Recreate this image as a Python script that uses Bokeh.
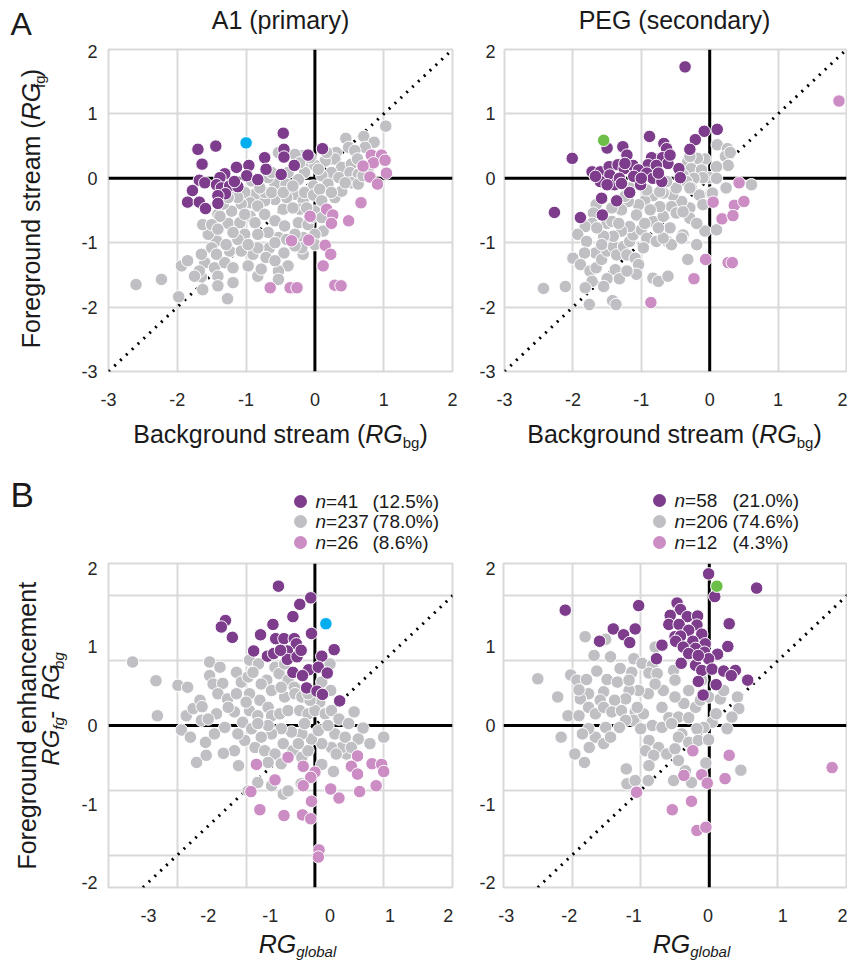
import math
from bokeh.plotting import figure
from bokeh.layouts import column, row
from bokeh.models import FixedTicker, Span, Slope, Label
from bokeh.embed import file_html
from bokeh.resources import INLINE

# ---------------- data ----------------
# Panel A: x = background stream RG_bg, y = foreground stream RG_fg
A1_A_purple = [(-1.70,0.45),(-1.44,0.50),(-1.64,0.22),(-0.46,0.70),(-0.45,0.45),(-0.45,0.33),(-0.73,0.32),(-0.10,0.36),(0.11,0.46),(-0.30,0.20),(-0.71,0.14),(-0.96,0.20),(-1.14,0.17),(-1.31,0.07),(-0.99,0.04),(-0.83,-0.02),(-0.49,0.06),(-1.38,0.01),(-1.68,-0.03),(-1.60,-0.07),(-1.43,-0.10),(-1.36,-0.15),(-1.24,-0.12),(-1.12,-0.13),(-1.30,-0.24),(-1.41,-0.27),(-1.78,-0.19),(-1.85,-0.37),(-1.68,-0.37),(-1.59,-0.47),(-1.41,-0.39),(-1.17,-0.05)]
A1_A_pink = [(0.82,0.36),(0.97,0.36),(0.85,0.24),(0.70,0.19),(1.02,0.28),(0.80,0.02),(1.04,0.08),(0.91,-0.09),(0.67,-0.38),(0.17,-0.48),(0.26,-0.57),(-0.07,-0.59),(0.24,-0.70),(0.49,-0.66),(-0.34,-0.97),(-0.09,-0.96),(0.15,-1.04),(0.23,-1.18),(0.12,-1.36),(-0.65,-1.70),(-0.36,-1.70),(-0.26,-1.70),(0.29,-1.66),(0.38,-1.67)]
A1_A_gray = [(1.03,0.81),(0.45,0.62),(0.71,0.65),(0.86,0.56),(0.49,0.48),(0.31,0.40),(0.73,0.48),(0.29,0.30),(0.15,0.27),(0.39,0.17),(0.53,0.22),(0.24,0.09),(0.10,0.04),(0.35,0.01),(0.51,0.09),(0.63,0.06),(0.53,-0.07),(0.19,-0.09),(-0.02,-0.12),(-0.12,0.19),(0.00,0.20),(-0.19,0.35),(-0.53,0.40),(-0.29,0.37),(-0.15,0.09),(-0.24,-0.02),(-0.39,0.09),(-0.58,-0.09),(-0.68,0.01),(-0.42,-0.09),(-0.29,-0.25),(-0.17,-0.35),(-0.15,-0.22),(-0.02,-0.26),(0.07,-0.17),(0.10,-0.35),(0.00,-0.51),(-0.22,-0.48),(-0.46,-0.48),(-0.58,-0.33),(-0.73,-0.35),(-0.87,-0.25),(-1.02,-0.22),(-0.94,-0.38),(-0.83,-0.43),(-1.07,-0.40),(-1.21,-0.51),(-1.41,-0.56),(-1.26,-0.70),(-1.09,-0.69),(-0.94,-0.59),(-0.87,-0.69),(-0.73,-0.56),(-0.58,-0.66),(-0.44,-0.74),(-0.24,-0.69),(-0.10,-0.72),(0.12,-0.82),(0.00,-0.87),(-0.17,-0.92),(-0.29,-0.87),(-0.53,-0.92),(-0.68,-0.84),(-0.83,-0.87),(-1.02,-0.87),(-1.12,-0.95),(-1.24,-1.13),(-1.43,-0.97),(-1.55,-0.87),(-1.63,-0.72),(-1.50,-1.08),(-1.60,-1.31),(-1.46,-1.39),(-1.31,-1.31),(-1.19,-1.39),(-1.41,-1.52),(-1.65,-1.53),(-1.68,-1.44),(-1.94,-1.36),(-1.85,-1.28),(-1.63,-1.73),(-1.98,-1.84),(-1.41,-1.67),(-1.19,-1.62),(-1.27,-1.87),(-0.83,-1.52),(-0.78,-1.41),(-0.97,-1.36),(-0.90,-1.18),(-1.07,-1.13),(-0.66,-1.08),(-0.83,-1.08),(-0.58,-1.00),(-0.45,-1.16),(-0.39,-1.36),(-0.53,-1.44),(-0.53,-1.57),(-0.17,-1.18),(-0.19,-1.08),(0.00,-1.03),(-2.60,-1.65),(-2.23,-1.57),(-0.92,-0.04),(-1.17,-0.22),(-1.33,-0.40),(-1.38,-0.59),(-1.02,-0.56),(-0.73,-0.22),(-0.41,-0.30),(-0.32,-0.46),(-0.05,-0.61),(0.29,-0.30),(0.39,-0.20),(0.63,-0.09),(0.44,-0.07),(0.24,-0.22),(-0.12,-0.46),(0.10,-0.61),(0.58,0.43),(0.62,0.30),(0.78,0.17),(0.70,0.04),(0.17,0.40),(-0.07,0.32),(0.05,0.14),(-0.22,0.24),(-0.63,0.09),(-0.80,-0.15),(-0.63,-0.22),(-0.46,-0.22),(-0.32,-0.12),(-1.12,-0.30),(-1.26,-0.30),(-1.50,-0.72),(-1.41,-0.79),(-1.19,-0.84),(-1.29,-1.03),(-1.43,-1.18),(-0.97,-1.03),(-0.71,-1.23),(-0.58,-1.28),(-0.29,-1.05),(-0.41,-0.95),(-1.65,-1.18),(-1.75,-1.52)]
A1_A_blue = [(-1.00,0.55)]

PEG_A_purple = [(-0.36,1.73),(-0.88,0.65),(-0.67,0.54),(-0.63,0.46),(-0.08,0.73),(0.11,0.76),(-0.21,0.60),(-0.29,0.45),(-1.27,0.49),(-1.50,0.47),(-2.01,0.31),(-1.21,0.36),(-0.85,0.32),(-0.69,0.32),(-0.61,0.23),(-0.45,0.15),(-0.43,0.01),(-1.72,0.10),(-1.60,0.10),(-1.47,0.18),(-1.34,0.21),(-1.25,0.15),(-1.12,0.20),(-0.90,0.21),(-0.78,0.20),(-1.04,0.13),(-1.46,0.05),(-1.11,0.03),(-0.92,0.08),(-0.83,0.00),(-0.70,-0.05),(-1.60,-0.05),(-1.39,-0.10),(-1.32,0.00),(-1.01,-0.10),(-1.17,-0.22),(-1.36,-0.35),(-1.58,-0.31),(-2.27,-0.53),(-1.89,-0.61),(-1.57,-0.57),(-1.29,-0.08),(-1.67,0.03),(-1.00,0.00),(-0.75,0.08),(-0.58,0.36),(-1.24,0.23),(-1.50,-0.10)]
PEG_A_pink = [(1.89,1.20),(0.43,-0.07),(0.05,-0.37),(0.36,-0.42),(0.50,-0.36),(0.18,-0.63),(0.34,-0.58),(-0.06,-1.26),(0.27,-1.31),(0.33,-1.31),(-0.23,-1.56),(-0.86,-1.93)]
PEG_A_gray = [(0.11,0.52),(0.26,0.46),(0.23,0.34),(0.30,0.40),(0.27,0.20),(0.10,0.18),(-0.07,0.30),(-0.18,0.31),(-0.32,0.26),(-0.27,0.15),(-0.12,0.13),(0.00,0.01),(0.10,0.00),(0.61,-0.10),(-0.10,0.01),(-0.23,0.00),(-0.39,0.05),(-0.34,-0.05),(-0.27,-0.15),(-0.15,-0.26),(0.02,-0.23),(-0.10,-0.41),(-0.29,-0.46),(-0.41,-0.36),(-0.54,-0.26),(-0.68,-0.23),(-0.83,-0.27),(-0.95,-0.35),(-1.04,-0.41),(-1.19,-0.36),(-1.29,-0.49),(-1.43,-0.46),(-1.66,-0.41),(-1.70,-0.54),(-1.50,-0.70),(-1.72,-0.70),(-1.82,-0.75),(-1.93,-0.87),(-1.80,-0.98),(-1.67,-1.16),(-1.83,-1.16),(-2.00,-1.24),(-1.89,-1.34),(-1.75,-1.44),(-1.66,-1.39),(-1.58,-1.26),(-1.50,-1.13),(-1.41,-1.06),(-1.36,-1.19),(-1.26,-1.06),(-1.21,-1.19),(-1.38,-1.42),(-1.50,-1.56),(-1.32,-1.56),(-1.55,-1.68),(-1.72,-1.60),(-1.82,-1.70),(-2.11,-1.68),(-2.43,-1.71),(-1.76,-1.96),(-1.42,-1.90),(-1.37,-1.96),(-1.09,-1.24),(-1.04,-1.34),(-1.17,-0.98),(-1.12,-0.88),(-1.00,-0.80),(-0.92,-0.93),(-0.78,-0.98),(-0.97,-1.08),(-0.83,-1.55),(-0.75,-1.60),(-0.61,-1.52),(-0.62,-0.98),(-0.56,-1.03),(-0.68,-0.93),(-0.83,-0.67),(-0.68,-0.59),(-0.56,-0.44),(-0.73,-0.44),(-0.87,-0.49),(-1.07,-0.57),(-1.17,-0.75),(-1.29,-0.82),(-1.41,-0.90),(-1.55,-0.90),(-1.65,-0.77),(-1.58,-1.03),(-1.43,-0.67),(-1.33,-0.70),(-0.39,-0.88),(-0.41,-0.93),(-0.32,-1.26),(-0.19,-1.03),(-0.07,-0.82),(0.10,-0.80),(0.04,-0.23),(-0.29,-0.62),(-0.49,-0.54),(-0.39,-0.52),(-0.58,-0.77),(-0.75,-0.77),(-0.95,-0.70),(-0.29,-0.15),(-0.49,-0.15),(-0.63,-0.05),(-0.92,-0.18),(-0.73,-0.21),(-1.24,-0.28),(-1.17,-0.15),(-0.29,0.34),(0.24,-0.15),(-1.07,-1.49),(-1.21,-1.44),(-0.19,-0.70)]
PEG_A_green = [(-1.55,0.59)]

# Panel B: x = RG_global, y = RG_fg - RG_bg
A1_B_purple = [(-0.53,2.15),(-0.06,1.97),(-0.22,1.87),(-0.32,1.68),(-0.61,1.56),(-1.30,1.62),(-1.36,1.52),(-1.20,1.36),(-0.79,1.40),(-0.05,1.42),(-0.89,1.15),(-0.69,1.07),(-0.57,1.34),(-0.45,1.34),(-0.30,1.34),(-0.27,1.26),(-0.60,1.11),(-0.40,1.15),(-0.40,1.02),(-0.26,1.06),(0.28,1.17),(0.10,1.07),(-0.32,0.82),(-0.09,0.86),(0.05,0.90),(-0.18,0.77),(0.18,0.81),(-0.12,0.58),(0.03,0.53),(0.11,0.48),(0.36,0.38),(-0.50,1.16),(-0.20,1.16)]
A1_B_pink = [(-0.39,-0.49),(-0.85,-0.60),(-0.58,-0.84),(-0.17,-0.63),(0.00,-0.72),(-0.06,-0.80),(0.62,-0.47),(0.53,-0.63),(0.62,-0.75),(0.83,-0.59),(0.97,-0.60),(1.00,-0.71),(0.89,-0.93),(0.65,-1.02),(0.35,-1.12),(0.23,-0.98),(-0.17,-0.93),(-0.05,-1.17),(-0.93,-1.02),(-0.80,-1.30),(-0.45,-1.39),(-0.18,-1.38),(-0.06,-1.44),(0.06,-1.92),(0.05,-2.03)]
A1_B_gray = [(-2.65,0.98),(-2.31,0.69),(-2.29,0.15),(-1.99,0.62),(-1.85,0.59),(-1.94,-0.07),(-1.81,-0.18),(-1.72,-0.57),(-1.58,-0.46),(-1.59,-0.26),(-1.87,0.15),(-1.77,0.26),(-1.67,0.39),(-1.64,0.29),(-1.53,0.98),(-1.38,0.90),(-1.53,0.77),(-1.48,0.64),(-1.34,0.65),(-1.41,0.49),(-1.27,0.41),(-1.14,0.82),(-1.07,0.67),(-0.97,0.75),(-0.95,1.01),(-0.82,0.95),(-0.90,0.82),(-0.70,0.70),(-0.58,0.90),(-0.52,0.80),(-0.39,0.70),(-0.30,0.59),(0.10,0.67),(0.22,0.95),(0.07,0.36),(0.23,0.54),(-1.17,0.21),(-1.05,0.05),(-0.95,0.23),(-0.83,0.15),(-0.80,0.39),(-0.68,0.28),(-0.63,0.15),(-0.51,0.18),(-0.44,0.44),(-0.29,0.49),(-0.39,0.23),(-0.22,0.23),(-0.10,0.18),(0.00,0.23),(0.15,0.18),(0.24,0.23),(0.35,0.10),(0.49,0.03),(0.57,0.21),(0.70,-0.04),(0.63,-0.21),(0.80,-0.28),(1.00,-0.18),(0.46,-0.44),(0.39,-0.34),(0.24,-0.34),(0.10,-0.28),(-0.05,-0.21),(-0.19,-0.13),(-0.34,-0.10),(-0.49,-0.05),(-0.63,-0.13),(-0.78,-0.18),(-0.92,-0.05),(-1.02,-0.23),(-1.17,-0.39),(-1.33,-0.43),(-1.46,-0.13),(-1.31,-0.03),(-1.12,-0.13),(-0.87,-0.34),(-0.73,-0.39),(-0.58,-0.44),(-0.46,-0.28),(-0.32,-0.39),(-0.19,-0.49),(0.10,-0.60),(0.27,-0.71),(-0.49,-0.59),(-0.68,-0.57),(-0.83,-0.88),(-0.63,-0.93),(-0.46,-1.06),(-0.39,-1.01),(-0.20,-0.90),(-1.11,-0.62),(-0.97,-1.01),(-0.10,-0.39),(0.05,-0.08),(0.29,-0.13),(0.44,-0.18),(-0.15,0.03),(-0.68,0.00),(-0.83,0.03),(0.19,0.00),(-0.24,-0.28),(-0.95,0.49),(-1.00,0.36),(-1.14,0.49),(-1.26,0.28),(-1.43,0.18),(-1.65,0.08),(-1.55,0.10),(-0.78,0.64),(-0.63,0.54),(-0.49,0.59),(-0.19,0.44),(-0.07,0.39),(-0.10,0.49),(-0.44,0.95),(0.53,-0.34),(0.31,-0.44)]
A1_B_blue = [(0.16,1.57)]

PEG_B_purple = [(-0.01,2.34),(0.08,1.99),(0.69,2.12),(-2.10,1.78),(-1.03,1.85),(-0.47,1.89),(-0.42,1.79),(-0.57,1.70),(-0.32,1.68),(-0.17,1.69),(-0.59,1.56),(-0.44,1.56),(-0.18,1.55),(-0.30,1.47),(0.29,1.57),(-1.40,1.49),(-1.08,1.49),(-1.25,1.40),(-1.16,1.28),(-1.60,1.30),(-0.50,1.37),(-0.42,1.38),(-0.11,1.41),(-0.49,1.30),(-0.24,1.30),(-0.38,1.21),(-0.06,1.26),(0.27,1.22),(-0.69,1.24),(-0.20,1.19),(-0.07,1.13),(0.12,1.10),(-0.77,1.03),(-0.01,1.03),(-0.41,0.96),(-0.20,0.93),(-0.11,0.85),(0.04,0.87),(0.21,0.84),(0.38,0.85),(0.32,0.77),(0.56,0.70),(-0.16,0.68),(0.10,0.63),(-0.09,0.47),(-0.30,1.11),(-0.16,1.08)]
PEG_B_pink = [(1.79,-0.65),(-0.24,-0.39),(0.29,-0.46),(-0.11,-0.76),(-0.03,-0.89),(0.23,-0.82),(-0.37,-0.77),(-1.06,-1.03),(-0.26,-1.17),(-0.54,-1.30),(-0.18,-1.62),(-0.05,-1.57)]
PEG_B_gray = [(-2.50,0.72),(-1.81,1.37),(-1.51,1.33),(-1.68,1.08),(-1.44,1.06),(-2.02,0.78),(-1.93,0.70),(-1.79,0.71),(-1.64,0.84),(-1.49,0.71),(-1.34,0.67),(-1.30,0.88),(-1.13,0.82),(-1.10,1.03),(-0.98,0.96),(-0.83,0.93),(-0.88,0.81),(-0.76,0.80),(-0.79,1.21),(-0.52,0.85),(-0.50,0.70),(-0.67,0.54),(-0.79,0.64),(-0.89,0.49),(-1.03,0.54),(-1.17,0.54),(-1.22,0.41),(-1.38,0.39),(-1.54,0.52),(-1.59,0.39),(-1.76,0.49),(-1.88,0.41),(-2.21,0.44),(-2.06,0.15),(-1.90,0.15),(-1.76,0.28),(-1.66,0.18),(-1.54,0.28),(-1.42,0.21),(-1.28,0.23),(-1.08,0.21),(-1.10,0.08),(-0.96,0.18),(-0.83,0.00),(-1.00,-0.05),(-1.22,0.08),(-1.31,-0.03),(-1.51,-0.03),(-1.66,-0.18),(-1.76,-0.05),(-1.85,-0.13),(-1.75,-0.34),(-1.54,-0.28),(-1.44,-0.18),(-1.96,-0.44),(-1.82,-0.57),(-2.16,-0.18),(-0.69,-0.03),(-0.59,0.12),(-0.45,0.13),(-0.30,0.12),(-0.20,0.28),(-0.37,0.34),(-0.50,0.44),(-0.30,0.54),(-0.13,0.39),(-0.01,0.44),(0.16,0.41),(0.21,0.54),(0.41,0.44),(0.43,0.26),(0.33,0.13),(0.26,-0.05),(0.04,0.05),(-0.08,-0.03),(-0.18,-0.05),(-0.40,-0.13),(-0.45,-0.18),(-0.30,-0.26),(-0.16,-0.23),(-0.01,-0.22),(-0.88,-0.23),(-0.93,-0.39),(-0.74,-0.34),(-0.81,-0.46),(-0.62,-0.44),(-0.50,-0.36),(-0.45,-0.54),(-0.88,-0.62),(-1.21,-0.67),(-1.20,-0.90),(-1.08,-0.85),(-0.89,-0.85),(-0.52,-0.85),(-0.26,-0.88),(-0.05,-0.58),(0.46,-0.69),(-0.35,-0.70),(0.10,0.18),(-0.11,0.70),(-1.17,0.70),(-1.90,0.55),(-1.05,0.28),(-0.69,0.28),(-0.55,0.03)]
PEG_B_green = [(0.11,2.15)]

# legend values for panel B
A1_counts = [41, 237, 26]
A1_pcts = [12.5, 78.0, 8.6]
PEG_counts = [58, 206, 12]
PEG_pcts = [21.0, 74.6, 4.3]

# axis tick labels
XT_LABELS = ["-3", "-2", "-1", "0", "1", "2"]
YT_LABELS_A = ["-3", "-2", "-1", "0", "1", "2"]
YT_LABELS_B = ["-2", "-1", "0", "1", "2"]

# ---------------- style ----------------
PURPLE = "#7d3c8c"
GRAY = "#c0c0c4"
PINK = "#cc8cc4"
BLUE = "#00aeef"
GREEN = "#6cc04a"
GRID = "#d9d9d9"
TXT = "#1a1a1a"
FONT = "Liberation Sans"

AW = {' ': 278, '(': 333, ')': 333, '-': 333, '=': 584, '%': 889, '.': 278,
      'A': 667, 'B': 667, 'E': 667, 'F': 611, 'G': 778, 'P': 667, 'R': 722, 'S': 667, 'C': 722,
      'a': 556, 'b': 556, 'c': 500, 'd': 556, 'e': 556, 'f': 278, 'g': 556, 'h': 556, 'i': 222,
      'k': 500, 'l': 222, 'm': 833, 'n': 556, 'o': 556, 'p': 556, 'r': 333, 's': 500, 't': 278,
      'u': 556, 'y': 500}
for _d in "0123456789":
    AW[_d] = 556


def tw(s, size):
    return sum(AW.get(c, 556) for c in s) * size / 1000.0


# ---------------- text-only figures (frame = whole canvas) ----------------
class TextFig:
    def __init__(s, x0, y0, w, h):
        s.x0, s.y0, s.h = x0, y0, h
        s.p = figure(width=w, height=h, x_range=(0, w), y_range=(0, h), output_backend="svg",
                     toolbar_location=None, x_axis_type=None, y_axis_type=None, min_border=0,
                     outline_line_color=None, background_fill_color="white",
                     border_fill_color="white")

    def X(s, px):
        return px - s.x0

    def Y(s, py):
        return s.y0 + s.h - py

    def lab(s, px, py, text, size, style="normal", align="left", angle=0.0, color=TXT,
            mid=False):
        # (px, py) is the alphabetic baseline point unless mid=True
        if not mid:
            if angle == 0.0:
                py -= 0.35 * size
            else:
                px -= 0.35 * size
        s.p.add_layout(Label(x=s.X(px), y=s.Y(py), text=text, text_font=FONT,
                             text_font_size=f"{size}px", text_font_style=style,
                             text_align=align, text_baseline="middle", angle=angle,
                             text_color=color))

    def h_text(s, pieces, cx, base):
        W = sum(tw(t, z) for t, z, _, _ in pieces)
        x = cx - W / 2
        for t, z, st, dy in pieces:
            if t.strip():
                s.lab(x, base + dy, t, z, st)
            x += tw(t, z)

    def v_text(s, pieces, base_x, cy):
        # vertical text reading upwards; the first (long) piece is anchored at its end
        ang = math.pi / 2
        W = sum(tw(t, z) for t, z, _, _ in pieces)
        t, z, st, dx = pieces[0]
        y = cy + W / 2 - tw(t, z)
        s.lab(base_x + dx, y, t, z, st, align="right", angle=ang)
        for t, z, st, dx in pieces[1:]:
            if t.strip():
                s.lab(base_x + dx, y, t, z, st, angle=ang)
            y -= tw(t, z)

    def legend(s, dot_x, rows_y, text_x, paren_x, counts, pcts):
        cols = [PURPLE, GRAY, PINK]
        s.p.scatter([s.X(dot_x)] * 3, [s.Y(r) for r in rows_y], size=13, marker="circle",
                    fill_color=cols, line_color=None)
        for cy, n, pc in zip(rows_y, counts, pcts):
            s.lab(text_x, cy, "n", 19, "italic", mid=True)
            t = "=" + str(n)
            s.lab(text_x + tw("n", 19), cy, t, 19, mid=True)
            px = max(paren_x, text_x + tw("n" + t, 19) + 1)
            s.lab(px, cy, f"({pc:.1f}%)", 19, mid=True)


# ---------------- scatter panels ----------------
def make_panel(w, h, bl, bt, fw, fh, yr, xticks, yticks, ylabels, ygrid, xstand, ystand):
    p = figure(width=w, height=h, x_range=(-3, 2), y_range=yr, output_backend="svg",
               toolbar_location=None, min_border_left=bl, min_border_right=w - bl - fw,
               min_border_top=bt, min_border_bottom=h - bt - fh,
               background_fill_color="white", border_fill_color="white",
               outline_line_color=GRID, outline_line_width=2)
    p.xgrid.ticker = FixedTicker(ticks=[-2, -1, 1])
    p.ygrid.ticker = FixedTicker(ticks=ygrid)
    for gr in (p.xgrid[0], p.ygrid[0]):
        gr.grid_line_color = GRID
        gr.grid_line_width = 2
    p.xaxis.ticker = FixedTicker(ticks=xticks)
    p.xaxis.major_label_overrides = {t: l for t, l in zip(xticks, XT_LABELS)}
    p.yaxis.ticker = FixedTicker(ticks=yticks)
    p.yaxis.major_label_overrides = {t: l for t, l in zip(yticks, ylabels)}
    for ax in (p.xaxis[0], p.yaxis[0]):
        ax.axis_line_color = None
        ax.major_tick_line_color = None
        ax.minor_tick_line_color = None
        ax.major_tick_out = 0
        ax.major_tick_in = 0
        ax.major_label_text_font = FONT
        ax.major_label_text_font_size = "18px"
        ax.major_label_text_color = "#262626"
    p.xaxis.major_label_standoff = xstand
    p.yaxis.major_label_standoff = ystand
    p.add_layout(Span(location=0, dimension="height", line_color="black", line_width=3, level="underlay"))
    p.add_layout(Span(location=0, dimension="width", line_color="black", line_width=3, level="underlay"))
    p.add_layout(Slope(gradient=1, y_intercept=0, line_color="black", line_width=3,
                       line_dash="2 6", level="underlay"))
    return p


def dots(p, pts, color):
    p.scatter([q[0] for q in pts], [q[1] for q in pts], size=12.5, marker="circle",
              fill_color=color, line_color="white", line_width=1)


# ---------------- geometry (page pixels) ----------------
W_ALL = 847
YLW = 70                    # width of the y-label strips
WL, WR = 406, 371           # scatter figure widths (left / right column)
BLL, BLR, FW = 38, 26, 344  # left borders and frame width
DXR = -11                   # right column sits 11px left of the reference so all fits
H_T, H_A, H_M, H_B, H_BB = 39, 374, 143, 373, 31
Y_A, Y_M, Y_B, Y_BB = H_T, H_T + H_A, H_T + H_A + H_M, H_T + H_A + H_M + H_B

XT_A = [-3, -2, -1, 0, 1, 2]
YT_A = [-3, -2, -1, 0, 1, 1.97]
YT_B = [-2.42, -1.22, 0, 1.22, 2.42]
XT_B_L = [-2.42, -1.55, -0.65, 0.22, 1.09, 1.94]
XT_B_R = [-2.96, -2.04, -1.10, -0.02, 1.07, 2.0]

# top text strip
tT = TextFig(0, 0, W_ALL, H_T)
tT.lab(10, 35, "A", 32)
tT.lab(280, 28, "A1 (primary)", 25, align="center")
tT.lab(685 + DXR, 28, "PEG (secondary)", 25, align="center")

# panel A row
yA = TextFig(0, Y_A, YLW, H_A)
yA.v_text([("Foreground stream (", 25, "normal", 0), ("RG", 25, "italic", 0),
           ("fg", 15, "normal", 5), (")", 25, "normal", 0)], 39, 206)
pA1 = make_panel(WL, H_A, BLL, 10, FW, 322, (-3, 2), XT_A, YT_A, YT_LABELS_A, [-2, -1, 1], 21, 11)
pA2 = make_panel(WR, H_A, BLR, 10, FW, 322, (-3, 2), XT_A, YT_A, YT_LABELS_A, [-2, -1, 1], 21, 9)
for p, gray, pink, purple, extra, ecol in [
        (pA1, A1_A_gray, A1_A_pink, A1_A_purple, A1_A_blue, BLUE),
        (pA2, PEG_A_gray, PEG_A_pink, PEG_A_purple, PEG_A_green, GREEN)]:
    dots(p, gray, GRAY)
    dots(p, pink, PINK)
    dots(p, purple, PURPLE)
    dots(p, extra, ecol)

# middle text strip: x labels of panel A, "B", legends
tM = TextFig(0, Y_M, W_ALL, H_M)
for cx in (280, 685 + DXR):
    tM.h_text([("Background stream (", 25, "normal", 0), ("RG", 25, "italic", 0),
               ("bg", 15, "normal", 5), (")", 25, "normal", 0)], cx, 442)
tM.lab(10, 506, "B", 35)
tM.legend(300, [501, 521, 542], 315, 372, A1_counts, A1_pcts)
tM.legend(670 + DXR, [500, 521, 542], 685 + DXR, 743 + DXR, PEG_counts, PEG_pcts)

# panel B row
yB = TextFig(0, Y_B, YLW, H_B)
yB.v_text([("Foreground enhancement", 25, "normal", 0)], 35, 721)
yB.v_text([("RG", 24, "italic", 0), ("fg", 15, "italic", 5), (" - ", 24, "normal", 0),
           ("RG", 24, "italic", 0), ("bg", 15, "italic", 5)], 58, 722)
pB1 = make_panel(WL, H_B, BLL, 7, FW, 324, (-2.5, 2.5), XT_B_L, YT_B, YT_LABELS_B,
                 [-2, -1, 1, 2], 21, 11)
pB2 = make_panel(WR, H_B, BLR, 7, FW, 324, (-2.5, 2.5), XT_B_R, YT_B, YT_LABELS_B,
                 [-2, -1, 1, 2], 21, 8)
for p, gray, pink, purple, extra, ecol in [
        (pB1, A1_B_gray, A1_B_pink, A1_B_purple, A1_B_blue, BLUE),
        (pB2, PEG_B_gray, PEG_B_pink, PEG_B_purple, PEG_B_green, GREEN)]:
    dots(p, gray, GRAY)
    dots(p, pink, PINK)
    dots(p, purple, PURPLE)
    dots(p, extra, ecol)

# bottom text strip
tBB = TextFig(0, Y_BB, W_ALL, H_BB)
for cx in (297, 702 + DXR):
    tBB.h_text([("RG", 25, "italic", 0), ("global", 15, "italic", 4)], cx, 952)

layout = column(tT.p, row(yA.p, pA1, pA2), tM.p, row(yB.p, pB1, pB2), tBB.p)
open("out.html", "w").write(file_html(layout, INLINE))
